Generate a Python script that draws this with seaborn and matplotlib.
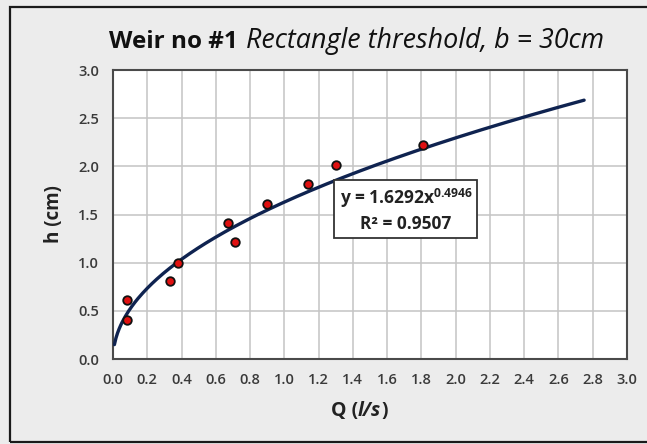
import numpy as np
import pandas as pd
import matplotlib.pyplot as plt
import seaborn as sns
from matplotlib.patches import Rectangle

# measured points
flow_q = [0.08, 0.08, 0.33, 0.38, 0.67, 0.71, 0.90, 1.14, 1.30, 1.81]
head_h = [0.61, 0.40, 0.81, 1.00, 1.41, 1.21, 1.61, 1.82, 2.01, 2.22]

# power trendline shown on the chart
coef_a = 1.6292
coef_b = 0.4946
r_squared = 0.9507
trend_start = 0.008
trend_end = 2.75

x_ticks = [round(0.2 * i, 1) for i in range(16)]
y_ticks = [0.0, 0.5, 1.0, 1.5, 2.0, 2.5, 3.0]

sns.set_theme(style='whitegrid')
plt.rcParams['font.family'] = ['Open Sans', 'DejaVu Sans']
plt.rcParams['mathtext.fontset'] = 'custom'
plt.rcParams['mathtext.rm'] = 'Open Sans'
plt.rcParams['mathtext.bf'] = 'Open Sans:bold'
plt.rcParams['mathtext.it'] = 'Open Sans:italic'

bg = '#ececec'
txt = '#3a3a3a'

fig = plt.figure(figsize=(6.47, 4.44), dpi=100, facecolor=bg)
ax = fig.add_axes([0.1747, 0.1914, 0.9690 - 0.1747, 0.8423 - 0.1914])
ax.set_facecolor('white')

# figure frame (right side cut off in the original)
fig.patches.append(Rectangle((9.5 / 647, 2 / 444), 1.2, (439 - 4) / 444,
                             transform=fig.transFigure, fill=False,
                             edgecolor='#1a1a1a', linewidth=1.6))

qq = np.linspace(trend_start, trend_end, 300)
trend = pd.DataFrame({'Q': qq, 'h': coef_a * qq ** coef_b})
sns.lineplot(data=trend, x='Q', y='h', ax=ax, color='#0f2350', linewidth=2.4,
             zorder=3)

pts = pd.DataFrame({'Q': flow_q, 'h': head_h})
sns.scatterplot(data=pts, x='Q', y='h', ax=ax, color='#e01010',
                edgecolor='#111111', linewidth=1.3, s=38, zorder=4)

ax.set_xlim(0, 3.0)
ax.set_ylim(0, 3.0)
ax.set_xticks(x_ticks)
ax.set_yticks(y_ticks)
ax.set_xticklabels([f'{v:.1f}' for v in x_ticks])
ax.set_yticklabels([f'{v:.1f}' for v in y_ticks])
ax.tick_params(axis='both', labelsize=10.5, colors=txt, length=0, pad=10)
for lab in ax.get_xticklabels() + ax.get_yticklabels():
    lab.set_fontweight('semibold')
ax.grid(True, color='#c4c4c4', linewidth=1.1)
for sp in ax.spines.values():
    sp.set_edgecolor('#4a4a4a')
    sp.set_linewidth(1.5)
    sp.set_visible(True)

ax.set_xlabel('')
ax.set_ylabel('h (cm)', fontsize=13.5, fontweight='bold', color='#222222',
              labelpad=10)

# x label: Q (l/s) with italic l/s
xl1 = fig.text(358 / 647, 1 - 416 / 444, 'Q (',
               fontsize=14, fontweight='bold', color='#222222',
               ha='right', va='baseline')
xl2 = ax.annotate('l/s', xy=(1, 0), xycoords=xl1, fontsize=14,
                  fontweight='bold', fontstyle='italic', color='#222222',
                  va='bottom', ha='left')
ax.annotate(')', xy=(1, 0), xycoords=xl2, fontsize=14, fontweight='bold',
            color='#222222', va='bottom', ha='left')

# title with bold and italic parts
fig.text(238 / 647, 1 - 48 / 444, 'Weir no #1', fontsize=17.5,
         fontweight='bold', color='#111111', ha='right', va='baseline')
fig.text(246 / 647, 1 - 48 / 444, 'Rectangle threshold, b = 30cm',
         fontsize=19.4, fontstyle='italic', color='#111111',
         ha='left', va='baseline')

eq = ('y = 1.6292x$^{\\mathbf{' + f'{coef_b:.4f}' + '}}$' + '\n'
      + f'R² = {r_squared:.4f}')
ax.text(1.71, 1.55, eq, fontsize=12.5, fontweight='bold', color='#222222',
        ha='center', va='center', linespacing=1.3, zorder=5,
        bbox=dict(boxstyle='square,pad=0.3', facecolor='white',
                  edgecolor='#333333', linewidth=1.3))

fig.savefig('out.png', dpi=100, facecolor=bg)
